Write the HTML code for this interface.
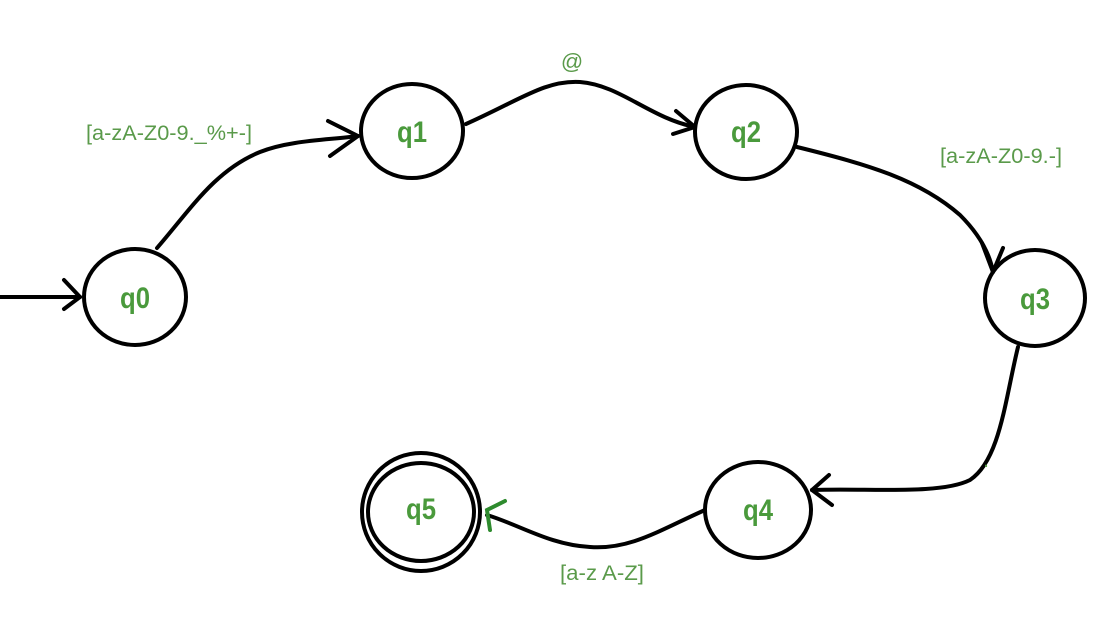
<!DOCTYPE html>
<html><head><style>body{margin:0;background:#fff}svg{display:block}</style></head><body>
<svg width="1097" height="634" viewBox="0 0 1097 634" xmlns="http://www.w3.org/2000/svg">
<g fill="none" stroke="#000" stroke-width="4" stroke-linecap="round" stroke-linejoin="round">
<ellipse cx="135" cy="297" rx="51" ry="48"/>
<ellipse cx="412" cy="131" rx="51" ry="47"/>
<ellipse cx="746" cy="132" rx="51" ry="47"/>
<ellipse cx="1035" cy="298" rx="50" ry="48"/>
<ellipse cx="758" cy="510" rx="53" ry="48"/>
<ellipse cx="421" cy="512" rx="59" ry="59"/>
<ellipse cx="421" cy="512" rx="53" ry="49"/>
<path d="M0 297 L80 297"/><path d="M64 280 L80 297 L64 309"/>
<path d="M157 248 C190 210 215 170 260 152 C290 140 330 140 358 136"/>
<path d="M328 121 L358 136 L330 156"/>
<path d="M466 124 C520 100 545 80 580 82 C620 85 650 118 695 127"/>
<path d="M676 111 L695 127 L673 134"/>
<path d="M797 147 C870 165 920 180 960 215 C980 235 990 255 993 272"/>
<path d="M982 243 L993 272 L1003 248"/>
<path d="M1018 347 C1005 400 1000 460 970 480 C940 495 870 488 812 490"/>
<path d="M829 475 L812 490 L832 505"/>
<path d="M705 510 C660 530 630 550 590 547 C550 545 520 525 487 515"/>
</g>
<path d="M505 501 L487 510 L490 530" fill="none" stroke="#2e8b2e" stroke-width="4" stroke-linecap="round"/>
<g font-family="Liberation Sans, sans-serif" fill="#4a9a3c" font-weight="bold" font-size="30" text-anchor="middle">
<text x="135" y="308" textLength="30" lengthAdjust="spacingAndGlyphs">q0</text>
<text x="412" y="142" textLength="30" lengthAdjust="spacingAndGlyphs">q1</text>
<text x="746" y="142" textLength="30" lengthAdjust="spacingAndGlyphs">q2</text>
<text x="1035" y="309" textLength="30" lengthAdjust="spacingAndGlyphs">q3</text>
<text x="758" y="520" textLength="30" lengthAdjust="spacingAndGlyphs">q4</text>
<text x="421" y="519" textLength="30" lengthAdjust="spacingAndGlyphs">q5</text>
</g>
<g font-family="Liberation Sans, sans-serif" fill="#5a9a4a" font-size="21" text-anchor="middle">
<text x="169" y="140" textLength="166" lengthAdjust="spacingAndGlyphs">[a-zA-Z0-9._%+-]</text>
<text x="572" y="69" font-size="22">@</text>
<text x="1001" y="163" textLength="122" lengthAdjust="spacingAndGlyphs">[a-zA-Z0-9.-]</text>
<text x="986" y="467">.</text>
<text x="602" y="580" textLength="84" lengthAdjust="spacingAndGlyphs">[a-z A-Z]</text>
</g>
</svg>
</body></html>
